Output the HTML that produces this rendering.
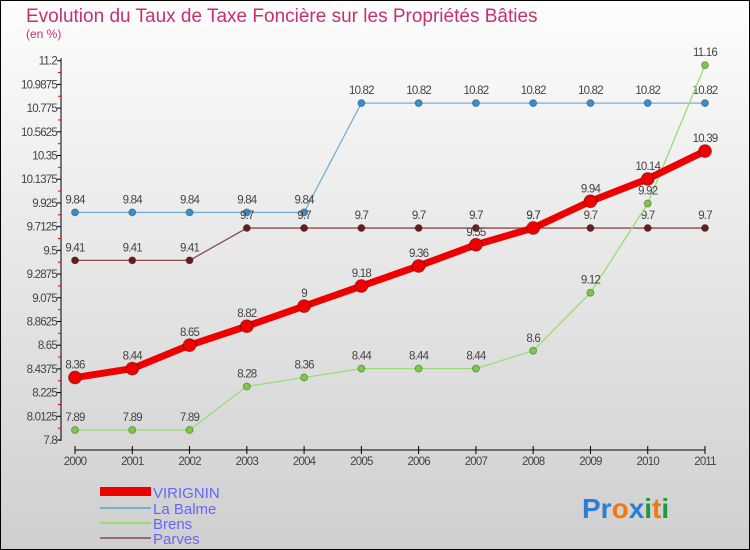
<!DOCTYPE html>
<html><head><meta charset="utf-8"><style>
body{margin:0;width:750px;height:550px;overflow:hidden;font-family:"Liberation Sans",sans-serif}
#c{position:absolute;left:0;top:0;width:748px;height:548px;border:1px solid #000;background:linear-gradient(#fdfdfd,#cfcfcf)}
</style></head><body>
<div id="c">
<svg id="s" width="750" height="550" style="position:absolute;left:-1px;top:-1px">
<text x="26" y="22" font-size="19" fill="#c8306c">Evolution du Taux de Taxe Foncière sur les Propriétés Bâties</text>
<text x="26" y="38" font-size="12" fill="#c8306c">(en %)</text>
<g id="axes"></g><g id="series"></g>
<g font-size="15" fill="#6666ff">
<rect x="100" y="487" width="51" height="9" fill="#e00"/>
<text x="153" y="498">VIRIGNIN</text>
<line x1="100" y1="508" x2="151" y2="508" stroke="#7aaed2" stroke-width="2"/>
<text x="153" y="514">La Balme</text>
<line x1="100" y1="523" x2="151" y2="523" stroke="#99dd77" stroke-width="2"/>
<text x="153" y="529">Brens</text>
<line x1="100" y1="538" x2="151" y2="538" stroke="#9b6b6b" stroke-width="2"/>
<text x="153" y="544">Parves</text>
</g>
<g font-size="28" font-weight="bold">
<text x="582" y="518"><tspan fill="#2a7fd4">Pr</tspan><tspan fill="#f07a10">o</tspan><tspan fill="#2a7fd4">x</tspan><tspan fill="#1a9a3a">i</tspan><tspan fill="#f07a10">t</tspan><tspan fill="#1a9a3a">i</tspan></text>
</g>
</svg></div>
<script>
const years=["2000","2001","2002","2003","2004","2005","2006","2007","2008","2009","2010","2011"];
const virignin=[8.36,8.44,8.65,8.82,9,9.18,9.36,9.55,9.7,9.94,10.14,10.39];
const laBalme=[9.84,9.84,9.84,9.84,9.84,10.82,10.82,10.82,10.82,10.82,10.82,10.82];
const brens=[7.89,7.89,7.89,8.28,8.36,8.44,8.44,8.44,8.6,9.12,9.92,11.16];
const parves=[9.41,9.41,9.41,9.7,9.7,9.7,9.7,9.7,9.7,9.7,9.7,9.7];
const yTicks=["7.8","8.0125","8.225","8.4375","8.65","8.8625","9.075","9.2875","9.5","9.7125","9.925","10.1375","10.35","10.5625","10.775","10.9875","11.2"];
const NS="http://www.w3.org/2000/svg";
const X=i=>75+i*(705-75)/(years.length-1);
const Y=v=>440-(v-7.8)*(440-60.7)/(11.2-7.8);
function mk(tag,a,p){const e=document.createElementNS(NS,tag);for(const k in a)e.setAttribute(k,a[k]);p.appendChild(e);return e;}
const ax=document.getElementById('axes');
const yl=mk('line',{x1:61,y1:58,x2:61,y2:441,stroke:'#000'},ax);


yTicks.forEach((t,i)=>{const v=parseFloat(t),y=Y(v);
mk('line',{x1:57,y1:y,x2:61,y2:y,stroke:'#000'},ax);
if(i<yTicks.length-1){const ym=(y+Y(parseFloat(yTicks[i+1])))/2;mk('line',{x1:58,y1:ym,x2:61,y2:ym,stroke:'#e00'},ax);}
const tx=mk('text',{x:57,y:y+4,'text-anchor':'end','font-size':11.5,fill:'#444','letter-spacing':'-0.8'},ax);tx.textContent=t;

});
const xl=mk('line',{x1:75,y1:450,x2:705,y2:450,stroke:'#000'},ax);


years.forEach((yr,i)=>{mk('line',{x1:X(i),y1:446,x2:X(i),y2:454,stroke:'#000'},ax);
const tx=mk('text',{x:X(i),y:465,'text-anchor':'middle','font-size':11.5,fill:'#444','letter-spacing':'-0.8'},ax);tx.textContent=yr;

});
const sg=document.getElementById('series');
function series(name,data,color,dot,w,r){const g=mk('g',{},sg);


const pl=mk('polyline',{points:data.map((v,i)=>X(i)+','+Y(v)).join(' '),fill:'none',stroke:color,'stroke-width':w,'stroke-linejoin':'round'},g);


data.forEach((v,i)=>{const c=mk('circle',{cx:X(i),cy:Y(v),r:r,fill:dot,stroke:'rgba(0,0,0,0.3)'},g);


const t=mk('text',{x:X(i),y:Y(v)-9,'text-anchor':'middle','font-size':11.5,fill:'#444','letter-spacing':'-0.8'},g);t.textContent=v;

});}
series('la-balme',laBalme,'#7aaed2','#3a8ed0',1.3,3.5);
series('parves',parves,'#8b4b4b','#6b1b1b',1.3,3.5);
series('brens',brens,'#99dd77','#77cc44',1.3,3.5);
series('virignin',virignin,'#ee0000','#ee0000',7,6.5);
</script>
</body></html>
